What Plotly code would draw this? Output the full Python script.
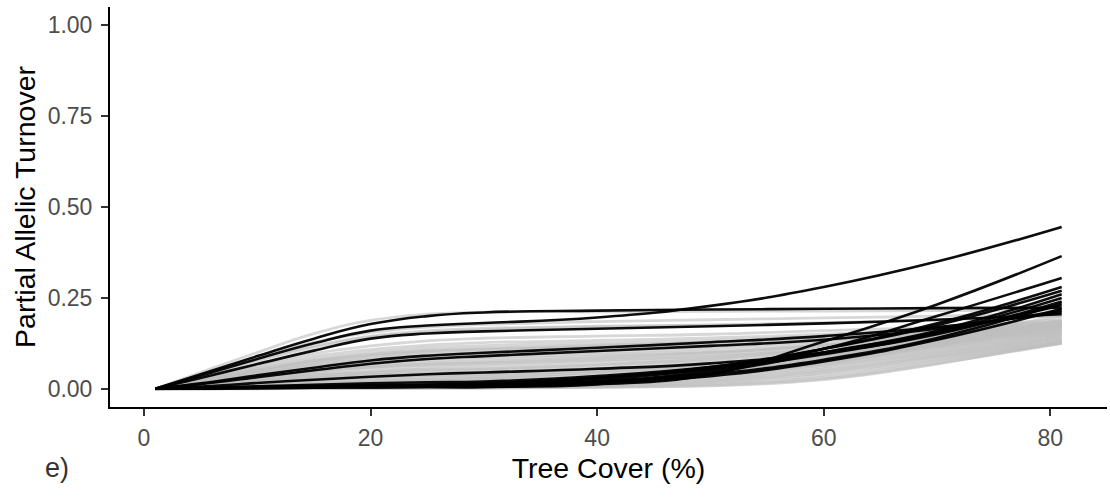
import plotly.graph_objects as go

# x positions (Tree Cover %) at which curves were read
tree_cover = [1, 5, 10, 15, 20, 25, 30, 40, 50, 60, 70, 81]

# permutation curves (grey)
grey_curves = [
    [0, .045, .10, .152, .188, .205, .211, .212, .213, .214, .215, .216],
    [0, .038, .087, .128, .155, .17, .177, .185, .19, .195, .20, .21],
    [0, .034, .08, .118, .145, .159, .166, .172, .176, .182, .19, .20],
    [0, .033, .077, .114, .142, .155, .163, .17, .175, .18, .19, .20],
    [0, .028, .065, .097, .118, .132, .139, .145, .15, .16, .17, .19],
    [0, .026, .06, .089, .108, .12, .127, .133, .14, .15, .165, .185],
    [0, .024, .056, .083, .101, .113, .119, .126, .133, .145, .16, .18],
    [0, .023, .052, .078, .095, .106, .112, .12, .128, .14, .155, .175],
    [0, .022, .052, .077, .093, .104, .109, .118, .128, .142, .162, .185],
    [0, .021, .05, .074, .09, .101, .107, .115, .123, .135, .152, .172],
    [0, .02, .047, .07, .085, .095, .101, .11, .12, .133, .15, .17],
    [0, .019, .045, .067, .081, .091, .096, .105, .116, .132, .155, .18],
    [0, .018, .043, .063, .077, .086, .091, .10, .11, .125, .145, .168],
    [0, .017, .041, .06, .074, .082, .087, .095, .103, .12, .145, .175],
    [0, .016, .038, .056, .069, .077, .081, .09, .10, .118, .14, .165],
    [0, .015, .036, .052, .064, .071, .075, .086, .099, .12, .15, .18],
    [0, .014, .034, .049, .061, .068, .072, .082, .094, .112, .136, .162],
    [0, .014, .033, .048, .059, .065, .069, .078, .09, .11, .14, .17],
    [0, .013, .031, .044, .055, .06, .064, .074, .087, .107, .132, .16],
    [0, .012, .028, .04, .048, .054, .057, .067, .08, .10, .128, .158],
    [0, .011, .026, .037, .046, .052, .055, .066, .082, .108, .142, .175],
    [0, .01, .024, .035, .043, .048, .051, .06, .073, .095, .125, .156],
    [0, .009, .021, .031, .039, .043, .046, .056, .07, .095, .13, .165],
    [0, .009, .021, .03, .038, .042, .044, .054, .068, .09, .122, .155],
    [0, .008, .019, .027, .034, .037, .04, .049, .062, .085, .118, .152],
    [0, .007, .017, .025, .031, .035, .038, .05, .067, .095, .135, .17],
    [0, .007, .016, .023, .028, .031, .034, .043, .057, .08, .115, .15],
    [0, .006, .013, .019, .023, .026, .029, .038, .052, .076, .112, .148],
    [0, .005, .011, .015, .019, .022, .025, .034, .048, .072, .108, .145],
    [0, .005, .011, .016, .021, .026, .03, .045, .065, .10, .145, .20],
    [0, .004, .009, .012, .016, .019, .021, .03, .044, .068, .104, .142],
    [0, .004, .008, .011, .015, .019, .022, .032, .05, .08, .12, .18],
    [0, .003, .007, .01, .014, .018, .022, .034, .055, .09, .135, .19],
    [0, .003, .006, .008, .011, .014, .016, .025, .04, .064, .10, .14],
    [0, .002, .005, .006, .009, .011, .013, .021, .035, .06, .097, .138],
    [0, .002, .004, .007, .01, .013, .016, .028, .048, .085, .13, .185],
    [0, .001, .003, .005, .008, .01, .013, .023, .042, .078, .125, .175],
    [0, .001, .003, .005, .007, .009, .011, .018, .031, .055, .093, .135],
    [0, .001, .002, .004, .006, .008, .01, .019, .037, .07, .118, .17],
    [0, .001, .002, .004, .006, .008, .009, .015, .027, .051, .09, .133],
    [0, .001, .002, .003, .005, .006, .007, .012, .023, .047, .087, .13],
    [0, .001, .002, .003, .004, .005, .006, .01, .02, .043, .083, .128],
    [0, 0, .001, .002, .003, .003, .004, .008, .017, .038, .079, .126],
    [0, 0, .001, .002, .002, .003, .003, .006, .013, .032, .075, .125],
    [0, 0, .001, .001, .002, .002, .003, .005, .01, .028, .07, .125],
    [0, 0, 0, .001, .001, .002, .002, .004, .008, .025, .068, .13],
]

# observed curves (black)
black_curves = [
    [0, .04, .09, .138, .178, .2, .21, .215, .218, .22, .222, .223],
    [0, .036, .082, .125, .16, .174, .181, .196, .228, .28, .35, .445],
    [0, .03, .068, .105, .138, .152, .158, .165, .172, .18, .19, .205],
    [0, .015, .037, .058, .078, .091, .099, .113, .128, .145, .17, .21],
    [0, .013, .032, .051, .069, .082, .09, .104, .118, .135, .165, .215],
    [0, .006, .016, .025, .033, .04, .045, .055, .07, .10, .15, .24],
    [0, .002, .004, .006, .007, .009, .01, .02, .045, .10, .16, .26],
    [0, .001, .002, .003, .004, .005, .005, .012, .04, .13, .232, .365],
    [0, .001, .003, .005, .006, .007, .008, .02, .05, .11, .20, .305],
    [0, .002, .004, .006, .008, .009, .01, .025, .055, .11, .18, .28],
    [0, .002, .005, .008, .01, .011, .012, .03, .06, .11, .175, .27],
    [0, .002, .004, .006, .008, .012, .015, .03, .055, .095, .155, .25],
    [0, .001, .003, .005, .006, .007, .008, .018, .04, .08, .14, .235],
    [0, .003, .007, .011, .015, .018, .02, .035, .06, .10, .155, .23],
    [0, .001, .002, .003, .004, .005, .005, .015, .035, .075, .135, .22],
]

x_ticks = [0, 20, 40, 60, 80]
y_ticks = [0, 0.25, 0.5, 0.75, 1.0]
y_tick_labels = ["0.00", "0.25", "0.50", "0.75", "1.00"]

FONT = "Liberation Sans, Arial, Helvetica, sans-serif"

fig = go.Figure()
for ys in grey_curves:
    fig.add_trace(go.Scatter(
        x=tree_cover, y=ys, mode="lines",
        line=dict(color="rgba(190,190,190,0.62)", width=2.8, shape="spline", smoothing=1.3),
        hoverinfo="skip", showlegend=False))
for ys in black_curves:
    fig.add_trace(go.Scatter(
        x=tree_cover, y=ys, mode="lines",
        line=dict(color="rgba(0,0,0,0.95)", width=2.6, shape="spline", smoothing=1.3),
        hoverinfo="skip", showlegend=False))

fig.update_layout(
    width=1110, height=501,
    margin=dict(l=110, r=3, t=7, b=94),
    paper_bgcolor="white", plot_bgcolor="white",
    font=dict(family=FONT, color="black"),
    showlegend=False,
    xaxis=dict(
        range=[-3, 85], tickvals=x_ticks, ticktext=[str(v) for v in x_ticks],
        showgrid=False, zeroline=False,
        showline=True, linecolor="black", linewidth=2,
        ticks="outside", ticklen=7, tickwidth=2, tickcolor="#333333",
        tickfont=dict(size=23, color="#4D4D4D", family=FONT),
        ticklabelstandoff=2,
        title=dict(text="Tree Cover (%)", font=dict(size=28.5, color="black", family=FONT), standoff=8),
    ),
    yaxis=dict(
        range=[-0.05, 1.05], tickvals=y_ticks, ticktext=y_tick_labels,
        showgrid=False, zeroline=False,
        showline=True, linecolor="black", linewidth=2,
        ticks="outside", ticklen=7, tickwidth=2, tickcolor="#333333",
        tickfont=dict(size=23, color="#4D4D4D", family=FONT),
        ticklabelstandoff=4,
        title=dict(text="Partial Allelic Turnover", font=dict(size=28.5, color="black", family=FONT), standoff=4),
    ),
    annotations=[dict(
        text="e)", xref="paper", yref="paper", x=-0.0672, y=-0.1525,
        xanchor="left", yanchor="middle", showarrow=False,
        font=dict(size=27, color="#333333", family=FONT))],
)

fig.write_html("out.html")
